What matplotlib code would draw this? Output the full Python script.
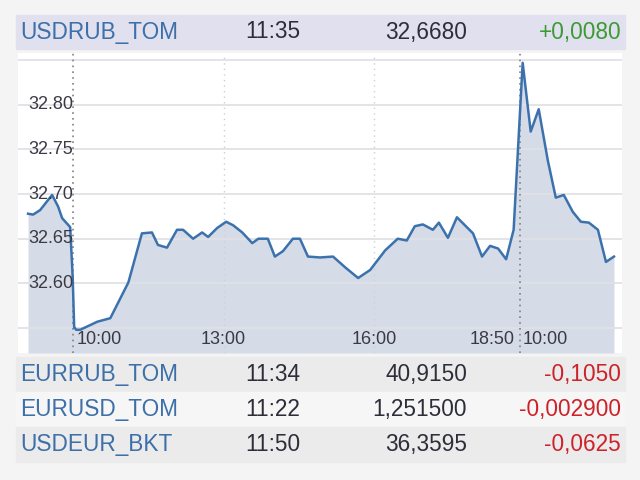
import matplotlib
matplotlib.use("Agg")
import matplotlib.pyplot as plt
from matplotlib.patches import Rectangle
import matplotlib.transforms as mtransforms

plt.rcParams['font.family'] = ['Liberation Sans', 'DejaVu Sans']

# ------------------------------------------
# Data
# ------------------------------------------

# header quote
head_name = "USDRUB_TOM"
head_time = "11:35"
head_price = "32,6680"
head_change = "+0,0080"

# intraday series (x in hours on a continuous session axis, day 2 starts at 18.9)
hours = [9.10, 9.20, 9.34, 9.58, 9.70, 9.78, 9.94, 9.99, 10.02, 10.06, 10.14,
         10.48, 10.74, 11.10, 11.37, 11.57, 11.69, 11.87, 12.07, 12.19, 12.39,
         12.57, 12.69, 12.87, 13.05, 13.19, 13.37, 13.57, 13.69, 13.88, 14.02,
         14.18, 14.38, 14.52, 14.68, 14.92, 15.18, 15.42, 15.68, 15.92, 16.22,
         16.47, 16.65, 16.81, 16.97, 17.17, 17.29, 17.47, 17.65, 17.81, 17.97,
         18.15, 18.31, 18.47, 18.63, 18.78, 18.96, 19.12, 19.28, 19.46, 19.62,
         19.78, 19.96, 20.12, 20.28, 20.46, 20.62, 20.78]
prices = [32.678, 32.677, 32.682, 32.699, 32.686, 32.673, 32.663, 32.607, 32.551,
          32.548, 32.548, 32.557, 32.561, 32.601, 32.656, 32.657, 32.643, 32.640,
          32.660, 32.660, 32.650, 32.657, 32.652, 32.662, 32.669, 32.665, 32.657,
          32.645, 32.650, 32.650, 32.630, 32.636, 32.650, 32.650, 32.630, 32.629,
          32.630, 32.618, 32.606, 32.615, 32.637, 32.650, 32.648, 32.664, 32.666,
          32.660, 32.668, 32.651, 32.674, 32.665, 32.656, 32.630, 32.642, 32.639,
          32.627, 32.660, 32.847, 32.770, 32.795, 32.738, 32.696, 32.699, 32.680,
          32.669, 32.668, 32.660, 32.624, 32.630]

y_ticks = [32.60, 32.65, 32.70, 32.75, 32.80]
y_grid = [32.55, 32.60, 32.65, 32.70, 32.75, 32.80, 32.85]
x_tick_pos = [10, 13, 16, 18.9, 18.9]
x_tick_labels = ["10:00", "13:00", "16:00", "18:50", "10:00"]
x_tick_align = ["left", "center", "center", "right", "left"]
day_breaks = [10, 18.9]
hour_lines = [13, 16]

# other quotes table
names = ["EURRUB_TOM", "EURUSD_TOM", "USDEUR_BKT"]
times = ["11:34", "11:22", "11:50"]
values = ["40,9150", "1,251500", "36,3595"]
changes = ["-0,1050", "-0,002900", "-0,0625"]

# ------------------------------------------
# Figure
# ------------------------------------------

W, H = 640, 480
fig = plt.figure(figsize=(6.4, 4.8), dpi=100)
fig.patch.set_facecolor("#f4f4f4")


def fx(px):
    return px / W


def fy(py):
    return 1 - py / H


blue = "#3d6fa8"
dark = "#2e2e3a"
green = "#3c9a32"
red = "#cc2229"
fs = 16.3

# header band
fig.add_artist(Rectangle((fx(16), fy(49)), fx(625) - fx(16), fy(15) - fy(49),
                         transform=fig.transFigure, color="#e0e0ef", zorder=0))
fig.text(fx(20), fy(32), head_name, color=blue, fontsize=fs, va="center", ha="left")
fig.text(fx(273), fy(32), head_time, color=dark, fontsize=fs, va="center", ha="center")
fig.text(fx(467), fy(32), head_price, color=dark, fontsize=fs, va="center", ha="right")
fig.text(fx(621), fy(32), head_change, color=green, fontsize=fs, va="center", ha="right")

# ------------------------------------------
# Chart
# ------------------------------------------

ax = fig.add_axes([fx(18), fy(353), fx(622) - fx(18), fy(53) - fy(353)])
ax.set_facecolor("white")
ax.set_xlim(8.9, 20.94)
ax.set_ylim(32.522, 32.858)

ax.fill_between(hours, prices, 32.522, color="#d6dce7", zorder=1, lw=0)
for g in y_grid:
    ax.axhline(g, color="#e0e0e6", lw=1.3, zorder=2)
for h in hour_lines:
    ax.axvline(h, color="#d0d0d0", lw=1, ls=(0, (1, 3)), zorder=2)
for h in day_breaks:
    ax.axvline(h, color="#808080", lw=1.2, ls=(0, (1, 2.5)), zorder=2)
ax.plot(hours, prices, color="#3b72ad", lw=1.8, zorder=3)

for s in ax.spines.values():
    s.set_visible(False)
ax.set_xticks([])
ax.set_yticks([])

# y labels drawn inside the plot
ytrans = mtransforms.blended_transform_factory(ax.transAxes, ax.transData)
for v in y_ticks:
    ax.text(10 / 604, v, "%.2f" % v, transform=ytrans, ha="left", va="center",
            fontsize=13, color="#3a3a46", zorder=4)

# x labels drawn inside the plot
xtrans = mtransforms.blended_transform_factory(ax.transData, ax.transAxes)
pad = {"left": 0.06, "center": 0, "right": -0.1}
for p, lab, al in zip(x_tick_pos, x_tick_labels, x_tick_align):
    ax.text(p + pad[al], 13 / 300, lab, transform=xtrans, ha=al, va="center",
            fontsize=13, color="#3a3a46", zorder=4)

# ------------------------------------------
# Table of other quotes
# ------------------------------------------

row_tops = [357, 392, 427]
row_h = 35
row_bg = ["#ebebeb", "#f6f6f6", "#ebebeb"]

for i in range(len(names)):
    top = row_tops[i]
    fig.add_artist(Rectangle((fx(16), fy(top + row_h)), fx(625) - fx(16), fy(top) - fy(top + row_h),
                             transform=fig.transFigure, color=row_bg[i], zorder=0))
    cy = fy(top + row_h / 2)
    fig.text(fx(20), cy, names[i], color=blue, fontsize=fs, va="center", ha="left")
    fig.text(fx(273), cy, times[i], color=dark, fontsize=fs, va="center", ha="center")
    fig.text(fx(467), cy, values[i], color=dark, fontsize=fs, va="center", ha="right")
    fig.text(fx(621), cy, changes[i], color=red, fontsize=fs, va="center", ha="right")

plt.savefig("out.png", dpi=100, facecolor=fig.get_facecolor())
